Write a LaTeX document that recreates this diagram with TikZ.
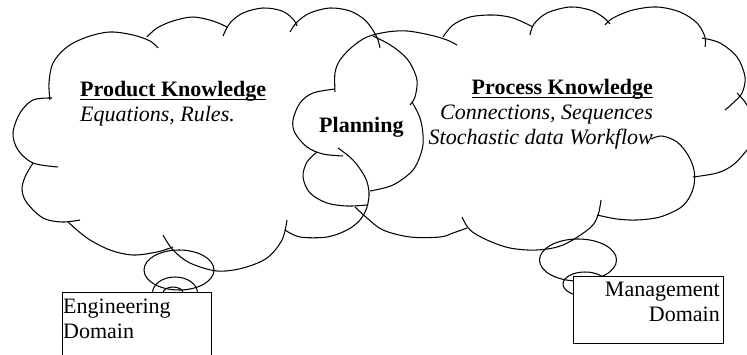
\documentclass[tikz,border=0pt]{standalone}
\usepackage{fontspec}
\setmainfont{Liberation Serif}
\usetikzlibrary{shapes.geometric}

\begin{document}
\begin{tikzpicture}[x=1pt, y=-1pt,
    every node/.style={font=\fontsize{22}{25}\selectfont, inner sep=0pt},
    lobe/.style={draw, line width=1.05pt, smooth, tension=0.55},
    bubble/.style={draw, ellipse, line width=1.05pt, inner sep=0pt},
    domainbox/.style={draw, fill=white, line width=1.05pt, anchor=north west}]
    \useasboundingbox (0,0) rectangle (747,355);
    \clip (0,0) rectangle (747,355);
    % Left cloud
    \draw[lobe] plot coordinates {(50,100) (49,83) (53,63) (67,47) (87,37) (110,32) (133,35) (150,41) (158,48)};
    \draw[lobe] plot coordinates {(147,37) (157,28) (173,21) (193,17) (213,21) (227,27)};
    \draw[lobe] plot coordinates {(223,36) (230,23) (243,13) (263,8) (282,11) (293,19) (297,26)};
    \draw[lobe] plot coordinates {(290,32) (297,22) (310,13) (330,8) (350,11) (365,20) (374,32) (378,40) (380,48)};
    \draw[lobe] plot coordinates {(52,98) (33,100) (20,113) (13,133) (18,150) (33,163) (58,167)};
    \draw[lobe] plot coordinates {(33,163) (25,177) (22,190) (27,203) (43,218) (62,222) (80,220)};
    \draw[lobe] plot coordinates {(68,222) (87,238) (110,250) (133,255) (157,252) (173,247)};
    \draw[lobe] plot coordinates {(163,235) (173,250) (190,263) (217,271) (243,268) (267,258) (282,240) (287,220)};
    \draw[lobe] plot coordinates {(285,230) (300,237) (327,237) (347,230) (360,220) (367,207) (369,192) (365,177) (353,160) (338,148)};
    % Planning cloud
    \draw[lobe] plot coordinates {(335,92) (335,73) (340,60) (352,47) (367,37) (387,32) (407,31) (430,35) (447,40) (457,45)};
    \draw[lobe] plot coordinates {(373,36) (387,43) (400,52) (410,63) (417,80) (415,97) (410,105)};
    \draw[lobe] plot coordinates {(335,89) (313,93) (300,103) (293,120) (295,133) (307,147) (323,154) (343,156)};
    \draw[lobe] plot coordinates {(317,152) (307,162) (303,177) (310,193) (327,203) (347,206) (367,205)};
    \draw[lobe] plot coordinates {(370,191) (393,185) (413,170) (422,150) (423,135) (420,118) (412,102)};
    % Process cloud
    \draw[lobe] plot coordinates {(443,37) (453,25) (470,17) (493,15) (513,18) (533,27)};
    \draw[lobe] plot coordinates {(530,35) (534,24) (547,13) (570,7) (590,10) (603,17) (610,24)};
    \draw[lobe] plot coordinates {(605,25) (613,18) (633,10) (657,7) (680,12) (697,23) (705,37) (705,47)};
    \draw[lobe] plot coordinates {(702,38) (720,43) (737,57) (745,77) (742,93) (733,103) (725,110)};
    \draw[lobe] plot coordinates {(737,93) (745,102) (752,115) (755,128) (751,142) (747,150) (733,165) (717,173) (693,177)};
    \draw[lobe] plot coordinates {(651,139) (662,136) (677,142) (688,155) (694,170) (694,185) (689,198) (680,208) (660,217) (637,220) (617,219) (597,215)};
    \draw[lobe] plot coordinates {(601,200) (598,215) (590,228) (563,245) (537,250) (510,248) (487,240) (470,230) (462,217)};
    \draw[lobe] plot coordinates {(355,207) (367,218) (383,230) (410,237) (440,237) (453,233) (467,228)};
    % Thought bubbles
    \node[bubble, minimum width=70, minimum height=40] (engbig) at (179,270) {};
    \node[bubble, minimum width=45, minimum height=32] (engmid) at (175,293) {};
    \node[bubble, minimum width=20, minimum height=12] (engsmall) at (173,293) {};
    \node[bubble, minimum width=77, minimum height=42] (mgmtbig) at (578,260) {};
    \node[bubble, minimum width=44, minimum height=24] (mgmtsmall) at (585,284) {};
    % Domain boxes
    \node[domainbox, minimum width=149, minimum height=72] (engbox) at (62,292) {};
    \node[domainbox, minimum width=150, minimum height=67] (mgmtbox) at (573,276) {};
    % Texts
    \node[anchor=base west] (prodtitle) at (80,97) {\textbf{Product Knowledge}};
    \node[anchor=base west] (prodtext) at (80,122) {\textit{Equations, Rules.}};
    \node[anchor=base west] (plan) at (319,133) {\textbf{Planning}};
    \node[anchor=base east] (proctitle) at (653,95) {\textbf{Process Knowledge}};
    \node[anchor=base east] (proctext) at (653,120) {\textit{Connections, Sequences}};
    \node[anchor=base east] (procflow) at (653,145) {\textit{Stochastic data Workflow}};
    \draw[line width=1.4pt] ([yshift=-2.5pt]prodtitle.base west) -- ([yshift=-2.5pt]prodtitle.base east);
    \draw[line width=1.4pt] ([yshift=-2.5pt]proctitle.base west) -- ([yshift=-2.5pt]proctitle.base east);
    \node[anchor=base west] (engline) at (63,313) {Engineering};
    \node[anchor=base west] (engdom) at (63,338) {Domain};
    \node[anchor=base east] (mgmtline) at (720,297) {Management};
    \node[anchor=base east] (mgmtdom) at (720,322) {Domain};
\end{tikzpicture}
\end{document}
